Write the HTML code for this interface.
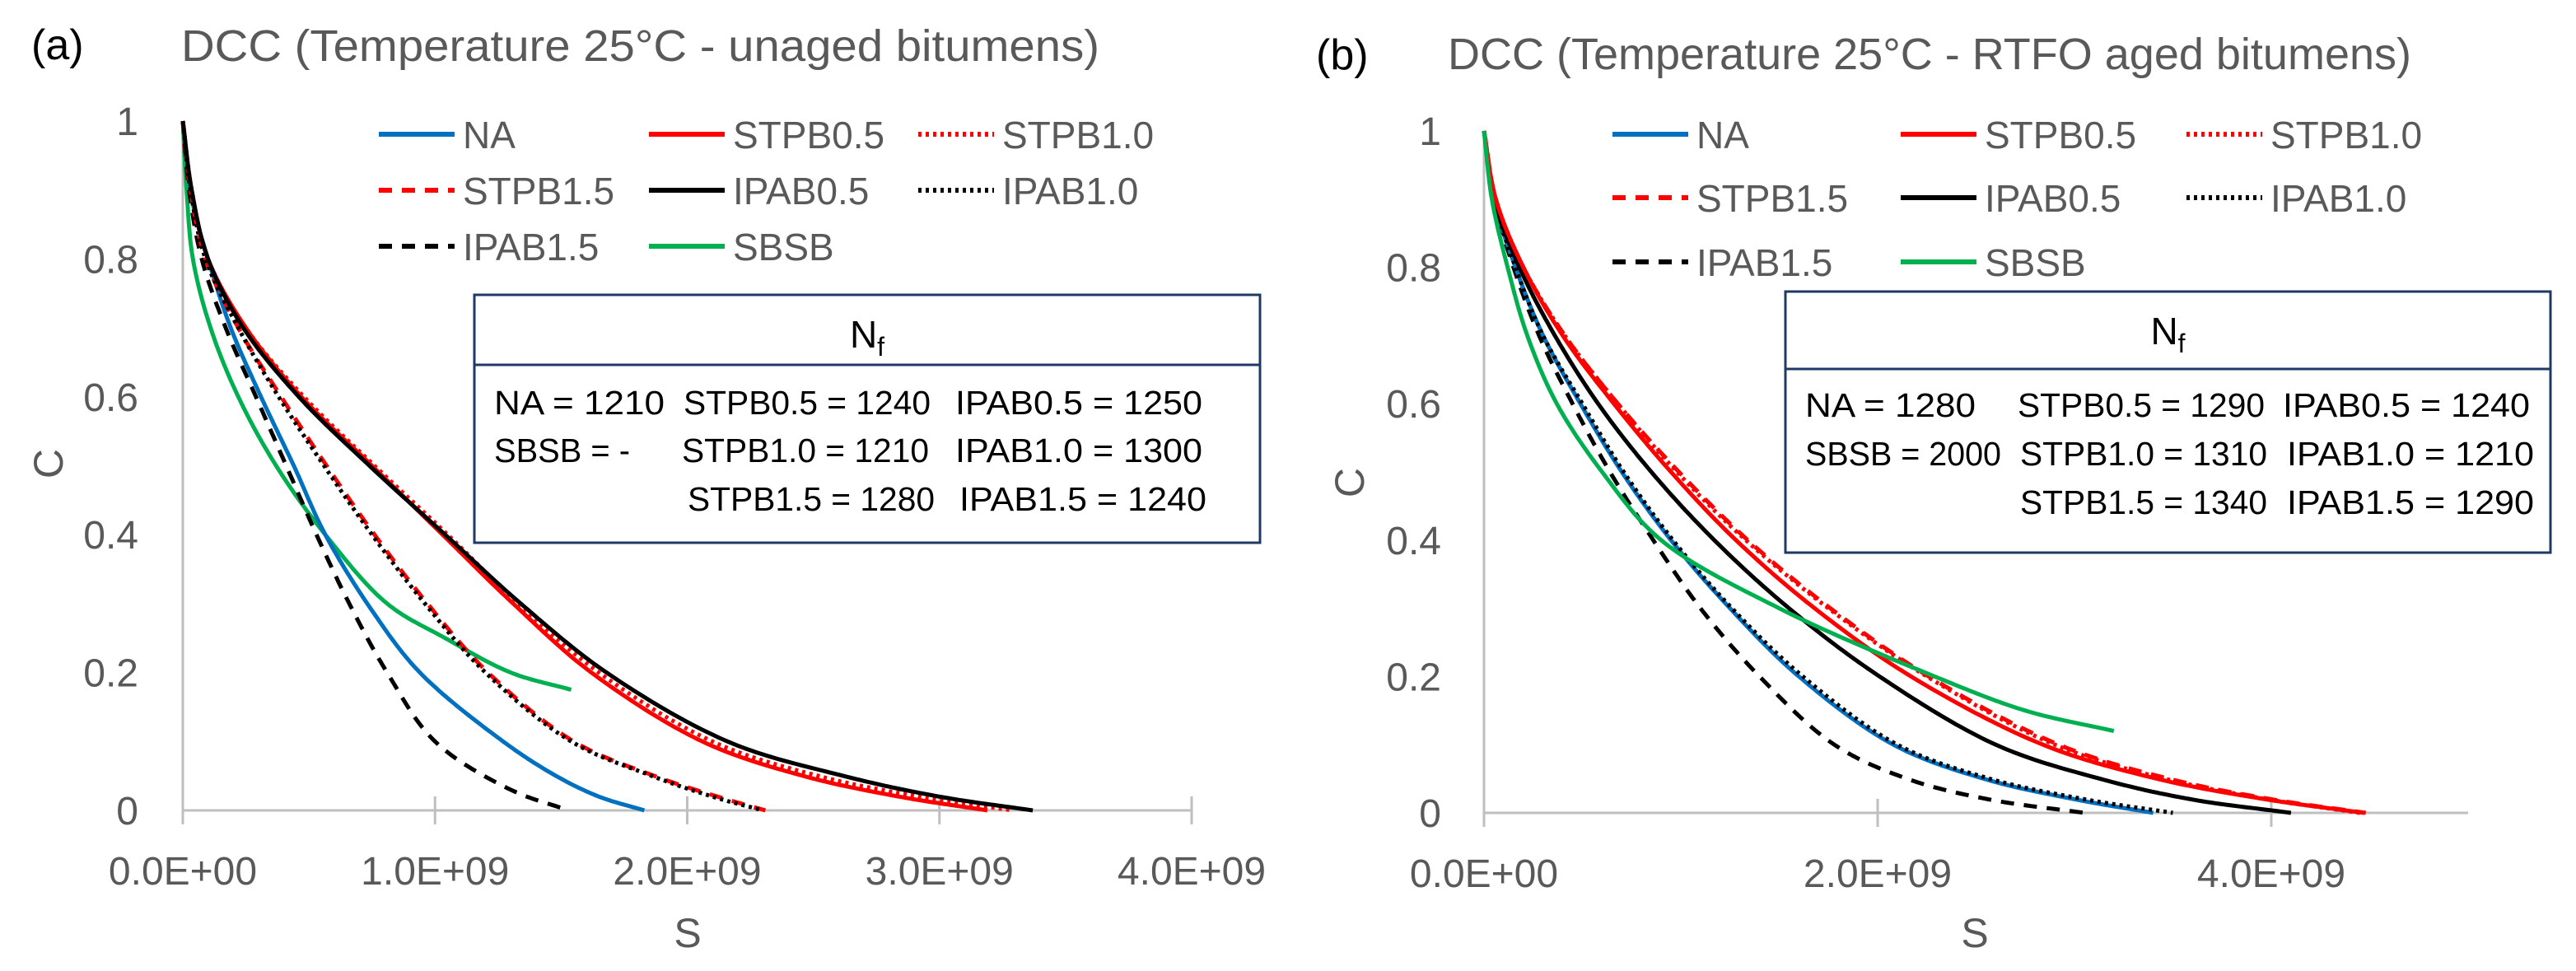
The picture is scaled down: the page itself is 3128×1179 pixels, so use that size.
<!DOCTYPE html>
<html><head><meta charset="utf-8"><style>
html,body{margin:0;padding:0;background:#fff;}
svg{display:block;font-family:"Liberation Sans",sans-serif;}
</style></head><body>
<svg id="svg" width="3128" height="1179" viewBox="0 0 3128 1179" xmlns="http://www.w3.org/2000/svg">
<g id="pa"></g>
<g id="pb"></g>
</svg>
<script>
// ---- Panel (a) data (S in 1e9, C) ----
const aNA_S=[0,0.04,0.1,0.19,0.31,0.44,0.565,0.75,0.94,1.27,1.48,1.65,1.83];
const aNA_C=[1,0.88,0.8,0.7,0.6,0.5,0.4,0.29,0.2,0.1,0.05,0.02,0];
const aSTPB05_S=[0,0.035,0.1,0.25,0.47,0.75,1.03,1.31,1.62,2.06,2.46,2.84,3.19];
const aSTPB05_C=[1,0.9,0.8,0.7,0.6,0.5,0.4,0.3,0.2,0.1,0.05,0.02,0];
const aSTPB10_S=[0,0.035,0.1,0.25,0.48,0.76,1.05,1.33,1.65,2.1,2.52,2.92,3.29];
const aSTPB10_C=[1,0.9,0.8,0.7,0.6,0.5,0.4,0.3,0.2,0.1,0.05,0.02,0];
const aSTPB15_S=[0,0.03,0.09,0.22,0.39,0.57,0.76,0.97,1.21,1.55,1.87,2.12,2.31];
const aSTPB15_C=[1,0.9,0.8,0.7,0.6,0.5,0.4,0.3,0.2,0.1,0.05,0.02,0];
const aIPAB05_S=[0,0.035,0.1,0.24,0.46,0.74,1.04,1.34,1.68,2.16,2.62,3.0,3.37];
const aIPAB05_C=[1,0.9,0.8,0.7,0.6,0.5,0.4,0.3,0.2,0.1,0.05,0.02,0];
const aIPAB10_S=[0,0.03,0.09,0.22,0.38,0.56,0.75,0.96,1.2,1.54,1.86,2.1,2.3];
const aIPAB10_C=[1,0.9,0.8,0.7,0.6,0.5,0.4,0.3,0.2,0.1,0.05,0.02,0];
const aIPAB15_S=[0,0.025,0.075,0.17,0.29,0.41,0.53,0.66,0.81,1.0,1.3,1.53];
const aIPAB15_C=[1,0.9,0.8,0.7,0.6,0.5,0.4,0.3,0.2,0.1,0.03,0];
const aSBSB_S=[0,0.015,0.04,0.11,0.22,0.37,0.565,0.81,1.04,1.3,1.54];
const aSBSB_C=[1,0.9,0.8,0.7,0.6,0.5,0.4,0.3,0.25,0.2,0.175];
// ---- Panel (b) data ----
const bNA_S=[0,0.05,0.16,0.3,0.49,0.7,0.95,1.25,1.6,2.08,2.54,3.0,3.4];
const bNA_C=[1,0.9,0.8,0.7,0.6,0.5,0.4,0.3,0.2,0.1,0.05,0.02,0];
const bSTPB05_S=[0,0.06,0.2,0.4,0.66,0.95,1.28,1.68,2.17,2.84,3.42,3.97,4.47];
const bSTPB05_C=[1,0.9,0.8,0.7,0.6,0.5,0.4,0.3,0.2,0.1,0.05,0.02,0];
const bSTPB10_S=[0,0.06,0.2,0.41,0.68,0.98,1.33,1.75,2.25,2.9,3.46,3.98,4.45];
const bSTPB10_C=[1,0.9,0.8,0.7,0.6,0.5,0.4,0.3,0.2,0.1,0.05,0.02,0];
const bSTPB15_S=[0,0.06,0.2,0.41,0.68,0.99,1.34,1.76,2.26,2.92,3.48,4.0,4.48];
const bSTPB15_C=[1,0.9,0.8,0.7,0.6,0.5,0.4,0.3,0.2,0.1,0.05,0.02,0];
const bIPAB05_S=[0,0.05,0.18,0.36,0.58,0.85,1.17,1.55,2.01,2.6,3.13,3.59,4.1];
const bIPAB05_C=[1,0.9,0.8,0.7,0.6,0.5,0.4,0.3,0.2,0.1,0.05,0.02,0];
const bIPAB10_S=[0,0.05,0.16,0.3,0.5,0.71,0.96,1.26,1.62,2.1,2.57,3.05,3.5];
const bIPAB10_C=[1,0.9,0.8,0.7,0.6,0.5,0.4,0.3,0.2,0.1,0.05,0.02,0];
const bIPAB15_S=[0,0.05,0.15,0.28,0.45,0.64,0.86,1.1,1.4,1.78,2.15,2.56,3.05];
const bIPAB15_C=[1,0.9,0.8,0.7,0.6,0.5,0.4,0.3,0.2,0.1,0.05,0.02,0];
const bSBSB_S=[0,0.04,0.12,0.22,0.37,0.6,0.9,1.5,2.29,2.75,3.2];
const bSBSB_C=[1,0.9,0.8,0.7,0.6,0.5,0.4,0.3,0.2,0.15,0.12];
// ticks
const aXTicks=[0,1,2,3,4];
const aXLabels=["0.0E+00","1.0E+09","2.0E+09","3.0E+09","4.0E+09"];
const bXTicks=[0,2,4];
const bXLabels=["0.0E+00","2.0E+09","4.0E+09"];
const yTicks=[0,0.2,0.4,0.6,0.8,1];
const yLabels=["0","0.2","0.4","0.6","0.8","1"];
const seriesNames=["NA","STPB0.5","STPB1.0","STPB1.5","IPAB0.5","IPAB1.0","IPAB1.5","SBSB"];
const aNf=[["NA = 1210",600],["STPB0.5 = 1240",830],["IPAB0.5 = 1250",1160],["SBSB =  -",600],["STPB1.0 = 1210",828],["IPAB1.0 = 1300",1160],["STPB1.5 = 1280",835],["IPAB1.5 = 1240",1165]];
const bNf=[["NA = 1280",632],["STPB0.5 = 1290",890],["IPAB0.5 = 1240",1212],["SBSB = 2000",632],["STPB1.0 = 1310",893],["IPAB1.0 = 1210",1217],["STPB1.5 = 1340",893],["IPAB1.5 = 1290",1217]];

const NS="http://www.w3.org/2000/svg";
function mk(parent,tag,attrs,txt){const e=document.createElementNS(NS,tag);for(const k in attrs)e.setAttribute(k,attrs[k]);if(txt!==undefined)e.textContent=txt;parent.appendChild(e);return e;}
// centripetal Catmull-Rom through pixel points
function curveD(S,C,X,Y){
  const P=S.map((s,i)=>[X(s),Y(C[i])]);const n=P.length;
  const ext=[[2*P[0][0]-P[1][0],2*P[0][1]-P[1][1]],...P,[2*P[n-1][0]-P[n-2][0],2*P[n-1][1]-P[n-2][1]]];
  const out=[P[0][0].toFixed(1)+","+P[0][1].toFixed(1)];
  const tj=(ti,a,b)=>ti+Math.pow(Math.hypot(b[0]-a[0],b[1]-a[1])||1e-4,0.5);
  for(let i=0;i<n-1;i++){
    const p0=ext[i],p1=ext[i+1],p2=ext[i+2],p3=ext[i+3];
    const t0=0,t1=tj(t0,p0,p1),t2=tj(t1,p1,p2),t3=tj(t2,p2,p3);
    for(let k=1;k<=24;k++){
      const t=t1+(t2-t1)*k/24;
      const L=(a,b,ta,tb)=>[(tb-t)/(tb-ta)*a[0]+(t-ta)/(tb-ta)*b[0],(tb-t)/(tb-ta)*a[1]+(t-ta)/(tb-ta)*b[1]];
      const A1=L(p0,p1,t0,t1),A2=L(p1,p2,t1,t2),A3=L(p2,p3,t2,t3);
      const B1=L(A1,A2,t0,t2),B2=L(A2,A3,t1,t3);
      const Cc=L(B1,B2,t1,t2);
      out.push(Cc[0].toFixed(1)+","+Cc[1].toFixed(1));
    }
  }
  return "M"+out.join(" L");
}
const styles={"NA":{c:"#0070c0",d:""},"STPB0.5":{c:"#ff0000",d:""},"STPB1.0":{c:"#ff0000",d:"4 5"},"STPB1.5":{c:"#ff0000",d:"16 12"},"IPAB0.5":{c:"#000",d:""},"IPAB1.0":{c:"#000",d:"4 5"},"IPAB1.5":{c:"#000",d:"16 12"},"SBSB":{c:"#00b050",d:""}};

function panel(g,cfg){
  const X=v=>cfg.x0+v*cfg.xs, Y=v=>cfg.y0-v*(cfg.y0-cfg.y1);
  mk(g,"text",{x:cfg.lx,y:cfg.ly,"font-size":52,fill:"#000",},cfg.label);
  mk(g,"text",{x:cfg.tx,y:cfg.ty,"font-size":54,fill:"#595959",textLength:cfg.tw,lengthAdjust:"spacingAndGlyphs",},cfg.title);
  mk(g,"line",{x1:X(0),y1:cfg.y1,x2:X(0),y2:cfg.y0,stroke:"#bfbfbf","stroke-width":3,});
  mk(g,"line",{x1:X(0),y1:cfg.y0,x2:X(cfg.xmax),y2:cfg.y0,stroke:"#bfbfbf","stroke-width":3,});
  cfg.xt.forEach((t,i)=>{
    mk(g,"line",{x1:X(t),y1:cfg.y0-17,x2:X(t),y2:cfg.y0+17,stroke:"#bfbfbf","stroke-width":3,});
    mk(g,"text",{x:X(t),y:cfg.y0+90,"font-size":48,fill:"#595959","text-anchor":"middle",},cfg.xl[i]);
  });
  yTicks.forEach((t,i)=>{
    mk(g,"text",{x:cfg.yLabX,y:Y(t)+17,"font-size":48,fill:"#595959","text-anchor":"end",},yLabels[i]);
  });
  mk(g,"text",{x:cfg.cx,y:cfg.cy,"font-size":50,fill:"#595959","text-anchor":"middle",transform:`rotate(-90 ${cfg.cx} ${cfg.cy})`,},"C");
  mk(g,"text",{x:cfg.sx,y:cfg.sy,"font-size":50,fill:"#595959","text-anchor":"middle",},"S");
  cfg.series.forEach(s=>{
    const st=styles[s.n];
    mk(g,"path",{d:curveD(s.S,s.C,X,Y),fill:"none",stroke:st.c,"stroke-width":5,"stroke-linejoin":"round","stroke-dasharray":st.d||"none",});
  });
  seriesNames.forEach((n,i)=>{
    const r=Math.floor(i/3),c=i%3,st=styles[n];
    const lx=cfg.legX[c],ly=cfg.legY[r];
    const lg=mk(g,"g",{});
    mk(lg,"line",{x1:lx,y1:ly,x2:lx+92,y2:ly,stroke:st.c,"stroke-width":6,"stroke-dasharray":st.d||"none"});
    mk(lg,"text",{x:lx+102,y:ly+17,"font-size":46,fill:"#595959"},n);
  });
  const bx=mk(g,"g",{});
  mk(bx,"rect",{x:cfg.bx0,y:cfg.by0,width:cfg.bx1-cfg.bx0,height:cfg.by1-cfg.by0,fill:"#fff",stroke:"#1f3864","stroke-width":3});
  mk(bx,"line",{x1:cfg.bx0,y1:cfg.bdiv,x2:cfg.bx1,y2:cfg.bdiv,stroke:"#1f3864","stroke-width":3});
  const nt=mk(bx,"text",{x:(cfg.bx0+cfg.bx1)/2,y:cfg.by0+64,"font-size":46,fill:"#000","text-anchor":"middle"});
  nt.appendChild(document.createTextNode("N"));
  mk(nt,"tspan",{"font-size":32,dy:10},"f");
  cfg.nf.forEach((t,i)=>{
    const r=i<3?0:(i<6?1:2);
    mk(bx,"text",{x:cfg.nfOff+t[1],y:cfg.nfY[r]+15,"font-size":41,fill:"#000",textLength:t[0].startsWith("NA")?207:(t[0].startsWith("SBSB = 2")?238:(t[0].startsWith("SBSB")?165:300)),lengthAdjust:"spacingAndGlyphs",},t[0]);
  });
}
panel(document.getElementById("pa"),{
  x0:222,xs:306.25,xmax:4,y0:984,y1:147,label:"(a)",lx:38,ly:72,title:"DCC (Temperature 25°C - unaged bitumens)",tx:220,ty:74,tw:1115,
  xt:aXTicks,xl:aXLabels,yLabX:168,cx:76,cy:563,sx:835,sy:1150,
  legX:[460,788,1115],legY:[163,231,299],
  bx0:576,by0:358,bx1:1530,by1:659,bdiv:443,nfOff:0,nfY:[488,546,605],nf:aNf,
  series:[{n:"SBSB",S:aSBSB_S,C:aSBSB_C},{n:"NA",S:aNA_S,C:aNA_C},{n:"IPAB1.5",S:aIPAB15_S,C:aIPAB15_C},{n:"STPB1.5",S:aSTPB15_S,C:aSTPB15_C},{n:"IPAB1.0",S:aIPAB10_S,C:aIPAB10_C},{n:"STPB0.5",S:aSTPB05_S,C:aSTPB05_C},{n:"STPB1.0",S:aSTPB10_S,C:aSTPB10_C},{n:"IPAB0.5",S:aIPAB05_S,C:aIPAB05_C}]
});
panel(document.getElementById("pb"),{
  x0:1802,xs:239,xmax:5,y0:987,y1:159,label:"(b)",lx:1598,ly:84,title:"DCC (Temperature 25°C - RTFO aged bitumens)",tx:1758,ty:84,tw:1170,
  xt:bXTicks,xl:bXLabels,yLabX:1750,cx:1656,cy:586,sx:2398,sy:1150,
  legX:[1958,2308,2655],legY:[163,240,318],
  bx0:2168,by0:354,bx1:3097,by1:671,bdiv:448,nfOff:1560,nfY:[491,550,609],nf:bNf,
  series:[{n:"IPAB1.5",S:bIPAB15_S,C:bIPAB15_C},{n:"NA",S:bNA_S,C:bNA_C},{n:"IPAB1.0",S:bIPAB10_S,C:bIPAB10_C},{n:"IPAB0.5",S:bIPAB05_S,C:bIPAB05_C},{n:"STPB0.5",S:bSTPB05_S,C:bSTPB05_C},{n:"STPB1.0",S:bSTPB10_S,C:bSTPB10_C},{n:"STPB1.5",S:bSTPB15_S,C:bSTPB15_C},{n:"SBSB",S:bSBSB_S,C:bSBSB_C}]
});
</script>
</body></html>
